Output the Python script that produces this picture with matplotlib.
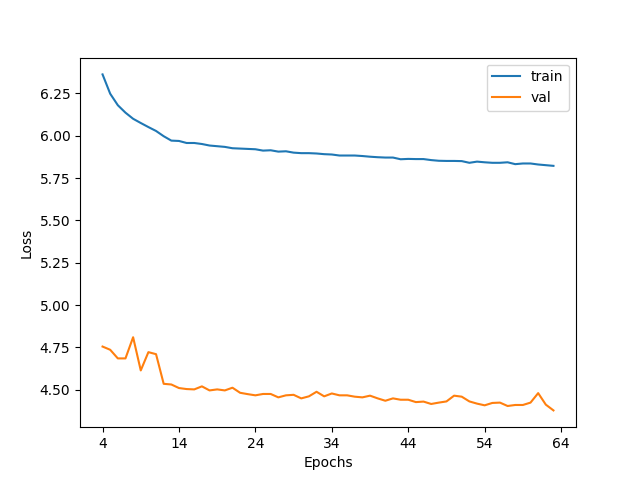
import matplotlib
matplotlib.use("Agg")
import matplotlib.pyplot as plt

epochs = list(range(4, 64))
train = [6.362, 6.248, 6.180, 6.136, 6.100, 6.075, 6.051, 6.028, 5.997, 5.971,
         5.969, 5.957, 5.957, 5.951, 5.942, 5.938, 5.934, 5.926, 5.924, 5.922,
         5.920, 5.912, 5.914, 5.906, 5.908, 5.900,
         5.897, 5.897, 5.895, 5.891, 5.889, 5.883, 5.883, 5.883, 5.880, 5.876,
         5.873, 5.871, 5.871, 5.861, 5.863, 5.862, 5.862, 5.856, 5.852, 5.851,
         5.851, 5.850, 5.840, 5.847, 5.843, 5.840, 5.840, 5.843, 5.832, 5.836,
         5.836, 5.830, 5.826, 5.822]
val = [4.755, 4.736, 4.685, 4.685, 4.810, 4.614, 4.722, 4.710, 4.535, 4.531,
       4.510, 4.504, 4.502, 4.520, 4.496, 4.502, 4.496, 4.512, 4.482, 4.474,
       4.467, 4.475, 4.475, 4.455, 4.467, 4.470, 4.449, 4.461, 4.488, 4.461,
       4.478, 4.467, 4.467, 4.459, 4.455, 4.465, 4.449, 4.435, 4.449, 4.441,
       4.441, 4.427, 4.430, 4.416, 4.424, 4.431, 4.465, 4.459, 4.431, 4.418,
       4.408, 4.422, 4.424, 4.404, 4.410, 4.410, 4.424, 4.480, 4.412, 4.378]
xticks = [4, 14, 24, 34, 44, 54, 64]

fig, ax = plt.subplots(figsize=(6.4, 4.8), dpi=100)
ax.plot(epochs, train, label="train")
ax.plot(epochs, val, label="val")
ax.set_xticks(xticks)
ax.set_xlabel("Epochs")
ax.set_ylabel("Loss")
ax.legend()
fig.savefig("out.png")
